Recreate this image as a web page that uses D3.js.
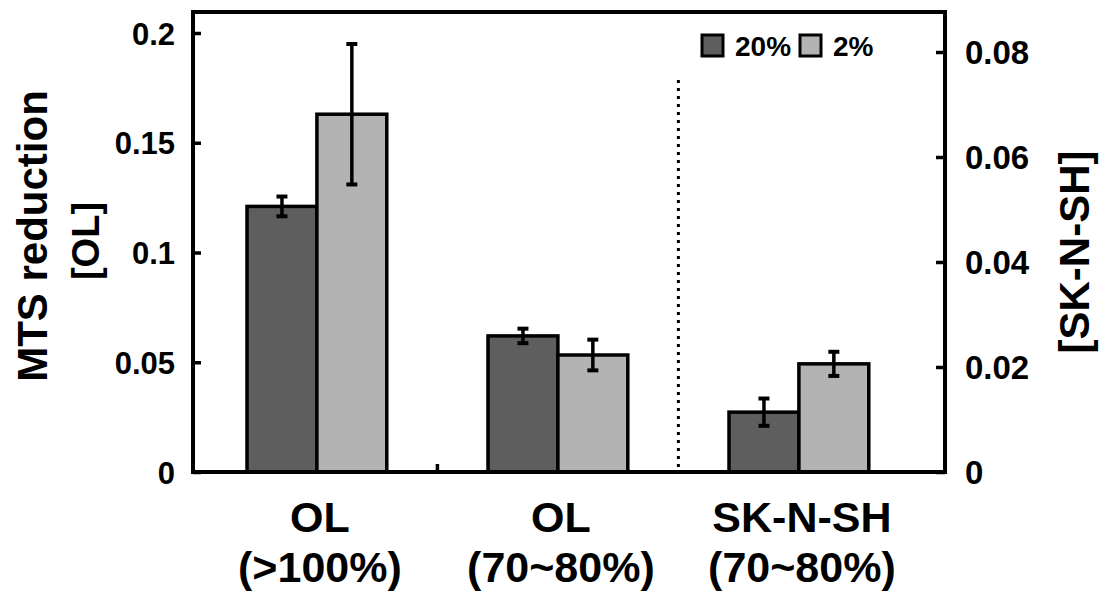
<!DOCTYPE html>
<html>
<head>
<meta charset="utf-8">
<title>MTS reduction</title>
<style>
  body { margin: 0; background: #fff; }
  text { font-family: "Liberation Sans", Arial, sans-serif; font-weight: bold; fill: #000; }
</style>
</head>
<body>
<svg></svg>
<script src="https://cdn.jsdelivr.net/npm/d3@7"></script>
<script>
// data
var catTop = ['OL', 'OL', 'SK-N-SH'],
    catBottom = ['(>100%)', '(70~80%)', '(70~80%)'],
    catAxis = ['left', 'left', 'right'],
    series = ['20%', '2%'],
    vals20 = [0.121, 0.062, 0.0114],
    err20 = [0.0045, 0.0033, 0.0026],
    vals2 = [0.163, 0.0533, 0.0206],
    err2 = [0.032, 0.007, 0.0023],
    leftTicks = [0, 0.05, 0.1, 0.15, 0.2],
    rightTicks = [0, 0.02, 0.04, 0.06, 0.08];

var width = 1099, height = 595,
    frame = { left: 193, right: 945, top: 12, bottom: 472 },
    colors = { '20%': '#5e5e5e', '2%': '#b3b3b3' };

var svg = d3.select('svg').attr('width', width).attr('height', height);

var x = d3.scaleBand().domain(d3.range(catTop.length))
    .range([196.4, 919.4]).paddingInner(0.42).paddingOuter(0.21);
var xs = d3.scaleBand().domain(series).range([0, x.bandwidth()]);
var yL = d3.scaleLinear().domain([0, 0.2]).range([472, 33]);
var yR = d3.scaleLinear().domain([0, 0.08]).range([472, 52]);

var rows = [];
catTop.forEach(function (c, i) {
    rows.push({ i: i, s: '20%', v: vals20[i], e: err20[i], y: catAxis[i] == 'left' ? yL : yR });
    rows.push({ i: i, s: '2%', v: vals2[i], e: err2[i], y: catAxis[i] == 'left' ? yL : yR });
});

// bars
svg.append('g').selectAll('rect').data(rows).join('rect')
    .attr('x', d => x(d.i) + xs(d.s))
    .attr('y', d => d.y(d.v))
    .attr('width', xs.bandwidth())
    .attr('height', d => d.y(0) - d.y(d.v))
    .attr('fill', d => colors[d.s])
    .attr('stroke', '#000')
    .attr('stroke-width', 3.5);

// error bars
var eb = svg.append('g').selectAll('g').data(rows).join('g')
    .attr('transform', d => `translate(${x(d.i) + xs(d.s) + xs.bandwidth() / 2},0)`);
eb.append('line')
    .attr('y1', d => d.y(d.v + d.e)).attr('y2', d => d.y(d.v - d.e))
    .attr('stroke', '#000').attr('stroke-width', 3.5);
eb.selectAll('line.cap').data(d => [d.y(d.v + d.e), d.y(d.v - d.e)]).join('line')
    .attr('class', 'cap')
    .attr('x1', -5.5).attr('x2', 5.5).attr('y1', d => d).attr('y2', d => d)
    .attr('stroke', '#000').attr('stroke-width', 4);

// divider between OL and SK-N-SH
var gap = x.step() * x.paddingInner() / 2;
var divX = x(1) + x.bandwidth() + gap;
svg.append('line')
    .attr('x1', divX).attr('x2', divX)
    .attr('y1', 80).attr('y2', frame.bottom)
    .attr('stroke', '#000').attr('stroke-width', 3)
    .attr('stroke-dasharray', '3,5');

// frame
svg.append('rect')
    .attr('x', frame.left).attr('y', frame.top)
    .attr('width', frame.right - frame.left).attr('height', frame.bottom - frame.top)
    .attr('fill', 'none').attr('stroke', '#000').attr('stroke-width', 4);

// left axis
var ax = svg.append('g').attr('transform', `translate(${frame.left},0)`)
    .call(d3.axisRight(yL).tickValues(leftTicks).tickSize(8).tickFormat(d3.format('')));
ax.select('.domain').remove();
ax.selectAll('line').attr('stroke', '#000').attr('stroke-width', 3.5);
ax.selectAll('text').attr('x', -18).attr('text-anchor', 'end')
    .style('font-size', '31px').attr('dy', '0.36em');

// right axis
var ar = svg.append('g').attr('transform', `translate(${frame.right},0)`)
    .call(d3.axisLeft(yR).tickValues(rightTicks).tickSize(9).tickFormat(d3.format('')));
ar.select('.domain').remove();
ar.selectAll('line').attr('stroke', '#000').attr('stroke-width', 3.5);
ar.selectAll('text').attr('x', 20).attr('text-anchor', 'start')
    .style('font-size', '33px').attr('dy', '0.36em');

// bottom tick between first two groups
var tickX = x(0) + x.bandwidth() + gap;
svg.append('line').attr('x1', tickX).attr('x2', tickX)
    .attr('y1', frame.bottom).attr('y2', frame.bottom - 8)
    .attr('stroke', '#000').attr('stroke-width', 3.5);

// category labels
var lab = svg.append('g').selectAll('g').data(catTop).join('g')
    .attr('transform', (d, i) => `translate(${x(i) + x.bandwidth() / 2 + 3},0)`);
lab.append('text').attr('y', 532).attr('text-anchor', 'middle')
    .style('font-size', '43px').text(d => d);
lab.append('text').attr('y', 582).attr('text-anchor', 'middle')
    .style('font-size', '43px').text((d, i) => catBottom[i]);

// axis titles
svg.append('text').attr('transform', 'translate(47,236) rotate(-90)')
    .attr('text-anchor', 'middle').style('font-size', '42px').text('MTS reduction');
svg.append('text').attr('transform', 'translate(99,241) rotate(-90)')
    .attr('text-anchor', 'middle').style('font-size', '38px').text('[OL]');
svg.append('text').attr('transform', 'translate(1089,252) rotate(-90)')
    .attr('text-anchor', 'middle').style('font-size', '42px').text('[SK-N-SH]');

// legend
var leg = svg.append('g').selectAll('g').data(series).join('g')
    .attr('transform', (d, i) => `translate(${i ? 800 : 702},35)`);
leg.append('rect').attr('width', 21).attr('height', 21)
    .attr('fill', d => colors[d]).attr('stroke', '#000').attr('stroke-width', 3);
leg.append('text').attr('x', 33).attr('y', 21)
    .style('font-size', '28px').text(d => d);
</script>
</body>
</html>
